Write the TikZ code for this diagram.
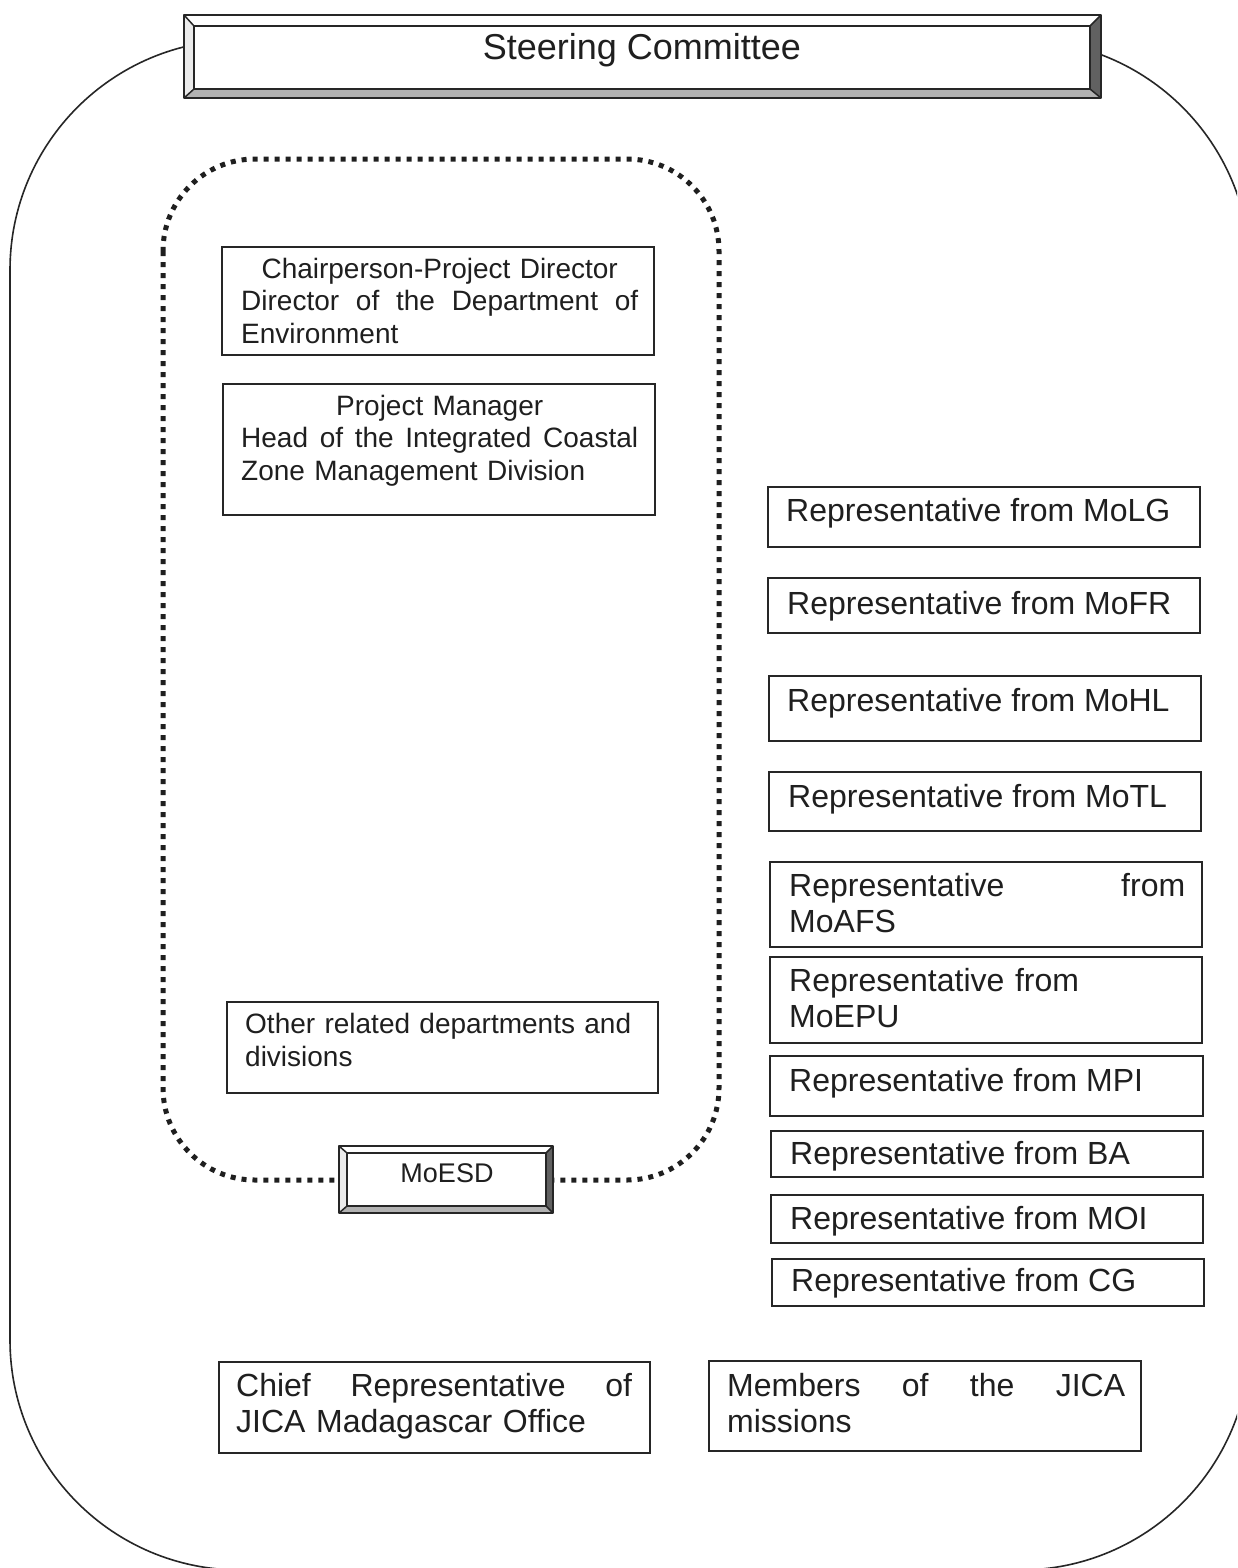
\documentclass[tikz,border=0pt]{standalone}
\usepackage{fontspec}
\setmainfont{Liberation Sans}
\usetikzlibrary{fit}
\tikzset{
  pbox/.style={draw=black!85, line width=1.6pt, inner sep=0pt, fill=white},
  txtA/.style={anchor=north west, inner sep=0pt, align=left, font=\fontsize{28}{32.5}\selectfont, text=black!88},
  txtB/.style={anchor=north west, inner sep=0pt, align=left, font=\fontsize{32}{36.5}\selectfont, text=black!88},
  outerline/.style={draw=black!85, line width=1.6pt, rounded corners=230pt},
  dotline/.style={draw=black!88, line width=5pt, dash pattern=on 5pt off 6pt, rounded corners=92pt},
  bevline/.style={draw=black!85, line width=1.5pt, line join=round},
}
\newcommand\bevbox[8]{%
  \fill[white] (#1,#2) -- (#3,#2) -- (#7,#6) -- (#5,#6) -- cycle;
  \fill[white!92!black] (#1,#2) -- (#5,#6) -- (#5,#8) -- (#1,#4) -- cycle;
  \fill[black!30] (#1,#4) -- (#5,#8) -- (#7,#8) -- (#3,#4) -- cycle;
  \fill[black!62] (#3,#2) -- (#3,#4) -- (#7,#8) -- (#7,#6) -- cycle;
  \fill[white] (#5,#6) rectangle (#7,#8);
  \draw[bevline] (#1,#2) rectangle (#3,#4);
  \draw[bevline] (#5,#6) rectangle (#7,#8);
  \draw[bevline] (#1,#2) -- (#5,#6) (#3,#2) -- (#7,#6) (#1,#4) -- (#5,#8) (#3,#4) -- (#7,#8);
}
\newcommand\jl[1]{\leavevmode\hbox to\hsize{#1}}
\newcommand\cl[1]{\makebox[\hsize]{#1}}
\begin{document}
\begin{tikzpicture}[x=1pt,y=-1pt]
\useasboundingbox (0,0) rectangle (1237,1568);
\clip (0,0) rectangle (1237,1568);
\fill[white] (0,0) rectangle (1237,1568);

% outer rounded frame
\draw[outerline] (10,40) rectangle (1250,1570);

% steering committee bevelled box
\bevbox{184}{15}{1101}{98}{194}{26}{1090}{89}
\node[inner sep=0pt, font=\fontsize{36}{40}\selectfont, text=black!88] (sc) at (642,50) {Steering Committee};

% dotted MoESD frame
\draw[dotline] (163,159) rectangle (719,1180);

% MoESD bevelled box
\bevbox{339}{1146}{553}{1213}{347}{1153}{546}{1206}
\node[inner sep=0pt, font=\fontsize{27}{30}\selectfont, text=black!88] (moesd) at (447,1173) {MoESD};

% left inner boxes
\node[pbox, fit={(222,247)(654,355)}] (chair) {};
\node[txtA, text width=397pt] (chairT) at (241,258) {\cl{Chairperson-Project Director}\\\jl{Director\hfill of\hfill the\hfill Department\hfill of}\\Environment};

\node[pbox, fit={(223,384)(655,515)}] (pm) {};
\node[txtA, text width=397pt] (pmT) at (241,395) {\cl{Project Manager}\\\jl{Head\hfill of\hfill the\hfill Integrated\hfill Coastal}\\Zone Management Division};

\node[pbox, fit={(227,1002)(658,1093)}] (other) {};
\node[txtA, text width=400pt] (otherT) at (245,1013) {Other related departments and\\divisions};

% right representative boxes
\node[pbox, fit={(768,487)(1200,547)}] (molg) {};
\node[txtB] (molgT) at (786,498) {Representative from MoLG};

\node[pbox, fit={(768,578)(1200,633)}] (mofr) {};
\node[txtB] (mofrT) at (787,591) {Representative from MoFR};

\node[pbox, fit={(769,676)(1201,741)}] (mohl) {};
\node[txtB] (mohlT) at (787,688) {Representative from MoHL};

\node[pbox, fit={(769,772)(1201,831)}] (motl) {};
\node[txtB] (motlT) at (788,784) {Representative from MoTL};

\node[pbox, fit={(770,862)(1202,947)}] (moafs) {};
\node[txtB, text width=396pt] (moafsT) at (789,873) {\jl{Representative\hfill from}\\MoAFS};

\node[pbox, fit={(770,957)(1202,1043)}] (moepu) {};
\node[txtB, text width=396pt] (moepuT) at (789,968) {Representative from\\MoEPU};

\node[pbox, fit={(770,1056)(1203,1116)}] (mpi) {};
\node[txtB] (mpiT) at (789,1068) {Representative from MPI};

\node[pbox, fit={(771,1131)(1203,1177)}] (ba) {};
\node[txtB] (baT) at (790,1141) {Representative from BA};

\node[pbox, fit={(771,1195)(1203,1243)}] (moi) {};
\node[txtB] (moiT) at (790,1206) {Representative from MOI};

\node[pbox, fit={(772,1259)(1204,1306)}] (cg) {};
\node[txtB] (cgT) at (791,1268) {Representative from CG};

% bottom JICA boxes
\node[pbox, fit={(219,1362)(650,1453)}] (chief) {};
\node[txtB, text width=396pt] (chiefT) at (236,1373) {\jl{Chief\hfill Representative\hfill of}\\JICA Madagascar Office};

\node[pbox, fit={(709,1361)(1141,1451)}] (members) {};
\node[txtB, text width=398pt] (membersT) at (727,1373) {\jl{Members\hfill of\hfill the\hfill JICA}\\missions};
\end{tikzpicture}
\end{document}
